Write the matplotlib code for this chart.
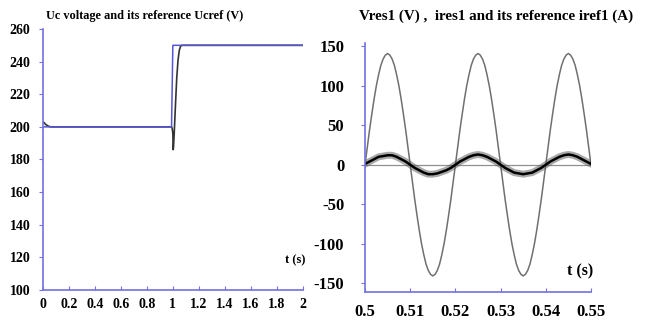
import numpy as np
import matplotlib
matplotlib.use('Agg')
import matplotlib.pyplot as plt

# Left panel: Uc and its reference Ucref
t_uc = [0.0, 0.01, 0.02, 0.04, 0.06, 0.5, 0.99, 0.995, 1.0, 1.003, 1.006,
        1.01, 1.02, 1.03, 1.04, 1.05, 1.06, 1.07, 1.1, 1.5, 2.0]
uc = [203, 202.5, 201.5, 200.5, 200, 200, 200, 199, 196, 186, 189,
      195, 213, 230, 241, 247, 249.5, 250, 250, 250, 250]
t_ucref = [0.0, 0.99, 1.0, 2.0]
ucref = [200, 200, 250, 250]

# Right panel: Vres1, ires1, iref1 (0.0005 s sampling for Vres1)
t_v = np.linspace(0.5, 0.55, 101)
vres1 = [0, 22, 44, 64, 83, 100, 114, 126, 134, 139, 141, 139, 134, 126, 114, 100, 83, 64, 44, 22,
         0, -22, -44, -64, -83, -100, -114, -126, -134, -139, -141, -139, -134, -126, -114, -100, -83, -64, -44, -22,
         0, 22, 44, 64, 83, 100, 114, 126, 134, 139, 141, 139, 134, 126, 114, 100, 83, 64, 44, 22,
         0, -22, -44, -64, -83, -100, -114, -126, -134, -139, -141, -139, -134, -126, -114, -100, -83, -64, -44, -22,
         0, 22, 44, 64, 83, 100, 114, 126, 134, 139, 141, 139, 134, 126, 114, 100, 83, 64, 44, 22, 0]
t_i = np.linspace(0.5, 0.55, 51)
ires1 = [1, 4, 7, 10, 11, 12, 12, 10, 7, 4, 0, -4, -7, -10, -12, -12, -11, -9, -7, -4,
         0, 4, 7, 10, 12, 13, 12, 10, 7, 4, 0, -4, -7, -10, -11, -12, -11, -10, -7, -4,
         0, 4, 7, 10, 12, 13, 12, 10, 7, 4, 1]
t_ref = [0.5, 0.55]
iref1 = [0, 0]

left_xticks = [0, 0.2, 0.4, 0.6, 0.8, 1, 1.2, 1.4, 1.6, 1.8, 2]
left_xlabels = ['0', '0.2', '0.4', '0.6', '0.8', '1', '1.2', '1.4', '1.6', '1.8', '2']
left_yticks = [100, 120, 140, 160, 180, 200, 220, 240, 260]
right_xticks = [0.5, 0.51, 0.52, 0.53, 0.54, 0.55]
right_xlabels = ['0.5', '0.51', '0.52', '0.53', '0.54', '0.55']
right_yticks = [-150, -100, -50, 0, 50, 100, 150]

plt.rcParams['font.family'] = ['Liberation Serif', 'DejaVu Serif']
plt.rcParams['font.weight'] = 'bold'
plt.rcParams['axes.unicode_minus'] = False
axis_blue = '#7272e0'

fig = plt.figure(figsize=(6.51, 3.24), dpi=100)
ax1 = fig.add_axes([0.066, 0.105, 0.399, 0.8055])
ax2 = fig.add_axes([0.5607, 0.0997, 0.3471, 0.7667])

# Left panel
ax1.plot(t_uc, uc, color='#333333', lw=1.2)
ax1.plot(t_ucref, ucref, color='#5555d8', lw=1.1)
ax1.set_xlim(0, 2)
ax1.set_ylim(100, 260)
ax1.set_xticks(left_xticks)
ax1.set_xticklabels(left_xlabels)
ax1.set_yticks(left_yticks)
ax1.tick_params(axis='x', direction='in', length=3, color=axis_blue, labelsize=10, pad=6)
ax1.tick_params(axis='y', direction='out', length=3, color=axis_blue, labelsize=10, pad=6)
ax1.text(0.39, 1.025, 'Uc voltage and its reference Ucref (V)', transform=ax1.transAxes,
         fontsize=8.8, fontweight='bold', ha='center', va='bottom')
ax1.text(1.94, 118, 't (s)', fontsize=9, fontweight='bold', ha='center', va='center')

# Right panel
ax2.plot(t_ref, iref1, color='#909090', lw=0.9)
ax2.plot(t_v, vres1, color='#707070', lw=1.1)
ax2.plot(t_i, ires1, color='#555555', lw=5, alpha=0.5)
ax2.plot(t_i, ires1, color='black', lw=1.8)
ax2.set_xlim(0.5, 0.55)
ax2.set_ylim(-161, 154)
ax2.set_xticks(right_xticks)
ax2.set_xticklabels(right_xlabels)
ax2.set_yticks(right_yticks)
ax2.tick_params(axis='x', direction='in', length=3, color=axis_blue, labelsize=12, pad=9)
ax2.tick_params(axis='y', direction='out', length=3, color=axis_blue, labelsize=12, pad=12)
ax2.text(0.58, 1.08, 'Vres1 (V) ,  ires1 and its reference iref1 (A)', transform=ax2.transAxes,
         fontsize=10.8, fontweight='bold', ha='center', va='bottom')
ax2.text(0.5475, -135, 't (s)', fontsize=11.5, fontweight='bold', ha='center', va='center')

for ax in (ax1, ax2):
    ax.spines['top'].set_visible(False)
    ax.spines['right'].set_visible(False)
    ax.spines['left'].set_color(axis_blue)
    ax.spines['bottom'].set_color(axis_blue)
    ax.spines['left'].set_linewidth(1.2)
    ax.spines['bottom'].set_linewidth(1.2)

fig.savefig('out.png', dpi=100)
